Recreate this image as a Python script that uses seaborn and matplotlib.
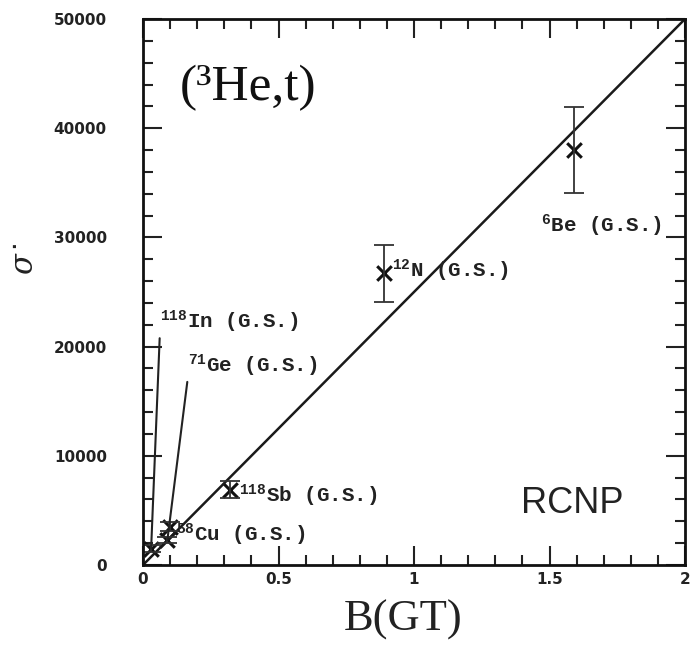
import matplotlib
matplotlib.use("Agg")
import matplotlib.pyplot as plt
import seaborn as sns
import pandas as pd
import numpy as np
from matplotlib.ticker import MultipleLocator

# ---- data ----
nuclei = ["118In", "71Ge", "58Cu", "118Sb", "12N", "6Be"]
bgt = [0.03, 0.09, 0.10, 0.32, 0.89, 1.59]
sigma = [1500, 2300, 3500, 6900, 26700, 38000]
sigma_err = [300, 300, 400, 800, 2600, 3900]
fit_x = [0.0, 2.0]
fit_y = [0.0, 50000.0]
labels = [r"$^{118}$In (G.S.)", r"$^{71}$Ge (G.S.)", r"$^{58}$Cu (G.S.)",
          r"$^{118}$Sb (G.S.)", r"$^{12}$N (G.S.)", r"$^{6}$Be (G.S.)"]
label_pos = [(0.062, 21700), (0.165, 17700), (0.12, 2200),
             (0.355, 5800), (0.92, 26400), (1.47, 30500)]
leader = [True, True, False, False, False, False]
x_ticks = [0, 0.5, 1, 1.5, 2]
x_ticklabels = ["0", "0.5", "1", "1.5", "2"]
y_ticks = [0, 10000, 20000, 30000, 40000, 50000]

df = pd.DataFrame({"nucleus": nuclei, "bgt": bgt, "sigma": sigma, "err": sigma_err})
fit_df = pd.DataFrame({"x": fit_x, "y": fit_y})

sns.set_theme(style="ticks")
plt.rcParams["mathtext.fontset"] = "custom"
plt.rcParams["mathtext.rm"] = "Liberation Mono:bold"
plt.rcParams["mathtext.it"] = "DejaVu Serif:italic"
plt.rcParams["mathtext.bf"] = "Liberation Mono:bold"

fig = plt.figure(figsize=(6.91, 6.56), dpi=100)
ax = fig.add_axes([143/691, 1 - 565/656, 542/691, 546/656])

sns.lineplot(data=fit_df, x="x", y="y", ax=ax, color="#1a1a1a", lw=1.8)
ax.errorbar(df["bgt"], df["sigma"], yerr=df["err"], fmt="none",
            ecolor="#333333", elinewidth=1.3, capsize=7, capthick=1.3)
sns.scatterplot(data=df, x="bgt", y="sigma", ax=ax, marker="x", s=110,
                color="#111111", linewidth=2.2, legend=False)

for lab, (tx, ty), ld, xv, yv in zip(labels, label_pos, leader, bgt, sigma):
    if ld:
        ax.annotate(lab, xy=(xv, yv), xytext=(tx, ty),
                    fontsize=15, family="Liberation Mono", fontweight="bold",
                    color="#222222", va="baseline", ha="left",
                    arrowprops=dict(arrowstyle="-", color="#222222", lw=1.5,
                                    shrinkA=0, shrinkB=0,
                                    relpos=(0.0, 0.0)))
    else:
        ax.text(tx, ty, lab, fontsize=15, family="Liberation Mono",
                fontweight="bold", color="#222222", va="baseline", ha="left")

ax.text(0.135, 42600, "(³He,t)", fontsize=37, family="Liberation Serif",
        color="#111111", va="baseline", ha="left")
ax.text(1.395, 4760, "RCNP", fontsize=26, family="Liberation Sans",
        color="#222222", va="baseline", ha="left")

ax.set_xlim(0, 2)
ax.set_ylim(0, 50000)
ax.set_xticks(x_ticks)
ax.set_xticklabels(x_ticklabels)
ax.set_yticks(y_ticks)
ax.set_yticklabels([str(v) for v in y_ticks])
ax.xaxis.set_minor_locator(MultipleLocator(0.1))
ax.yaxis.set_minor_locator(MultipleLocator(2000))
ax.tick_params(which="both", direction="in", top=True, right=True,
               color="#222222", width=1.5)
ax.tick_params(which="major", length=14)
ax.tick_params(which="minor", length=7)
ax.tick_params(axis="y", which="major", pad=26)
ax.tick_params(axis="x", which="major", pad=5)
for t in ax.get_xticklabels() + ax.get_yticklabels():
    t.set_fontsize(11)
    t.set_fontweight("bold")
    t.set_family("DejaVu Sans")
    t.set_color("#222222")
for s in ax.spines.values():
    s.set_linewidth(2)
    s.set_color("#111111")

ax.set_xlabel("B(GT)", fontsize=32, family="Liberation Serif", color="#222222")
ax.xaxis.set_label_coords(0.48, -0.10)
ax.xaxis.label.set_va("center")
ax.set_ylabel(r"$\sigma^{\bullet}$", fontsize=22, color="#222222", rotation=90)
ax.yaxis.set_label_coords(-0.19, 0.56)

fig.savefig("out.png", dpi=100)
